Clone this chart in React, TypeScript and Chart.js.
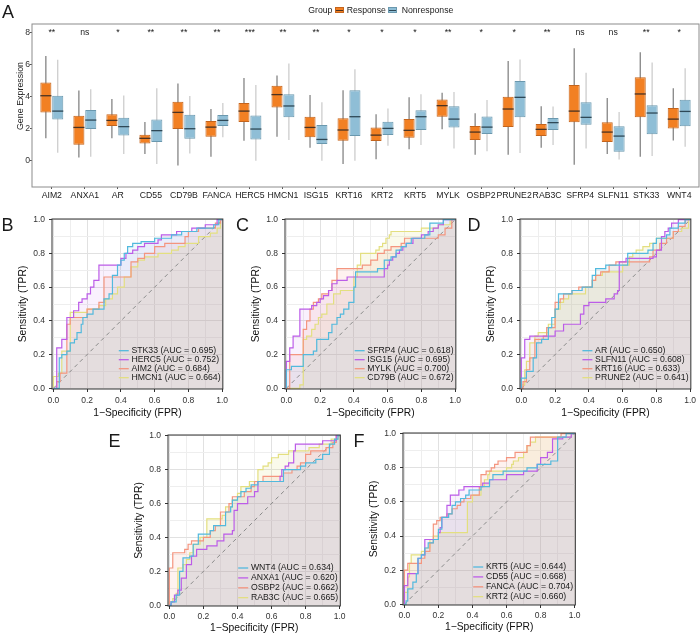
import React, { useEffect, useRef } from 'react';
import { Chart, registerables } from 'chart.js';

Chart.register(...registerables);

const FONT = '"Liberation Sans", Arial, Helvetica, sans-serif';

// ---------------- Panel A data ----------------
const genes = ['AIM2', 'ANXA1', 'AR', 'CD55', 'CD79B', 'FANCA', 'HERC5', 'HMCN1', 'ISG15', 'KRT16', 'KRT2', 'KRT5', 'MYLK', 'OSBP2', 'PRUNE2', 'RAB3C', 'SFRP4', 'SLFN11', 'STK33', 'WNT4'];
const significance = ['**', 'ns', '*', '**', '**', '**', '***', '**', '**', '*', '*', '*', '**', '*', '*', '**', 'ns', 'ns', '**', '*'];
const respMin = [1.4, 0.2, 1.4, 0.42, -0.29, 0.25, 1.25, 1.5, 0.81, -0.2, 0.1, 0.71, 1.96, 0.38, 0.38, 0.81, -0.25, 0.42, 0.25, 1.27];
const respQ1 = [3.02, 1.0, 2.17, 1.08, 1.98, 1.5, 2.42, 3.33, 1.46, 1.25, 1.23, 1.44, 2.75, 1.29, 2.1, 1.54, 2.4, 1.17, 2.71, 2.02];
const respMedian = [4.06, 2.08, 2.52, 1.4, 3.02, 2.1, 3.1, 4.13, 2.08, 1.92, 1.6, 1.9, 3.44, 1.79, 3.23, 1.96, 3.1, 1.79, 4.17, 2.6];
const respQ3 = [4.88, 2.81, 2.9, 1.63, 3.69, 2.48, 3.6, 4.69, 2.75, 2.65, 2.08, 2.6, 3.83, 2.17, 4.0, 2.29, 4.73, 2.4, 5.21, 3.29];
const respMax = [6.54, 4.38, 3.85, 2.42, 4.83, 3.23, 5.17, 5.33, 4.1, 4.4, 2.9, 3.96, 4.25, 2.96, 6.23, 3.4, 7.02, 3.92, 6.77, 4.52];
const nonMin = [0.5, 0.25, 0.42, -0.2, 0.46, 1.46, 0.0, 1.29, 0.0, 0.0, 0.94, 0.98, 0.77, 0.6, 0.48, 0.98, 0.77, 0.08, 0.29, 0.88];
const nonQ1 = [2.58, 1.98, 1.58, 1.17, 1.38, 2.17, 1.33, 2.71, 1.04, 1.54, 1.6, 1.92, 2.08, 1.67, 2.71, 1.92, 2.25, 0.56, 1.65, 2.15];
const nonMedian = [3.1, 2.54, 2.13, 1.88, 2.0, 2.52, 1.98, 3.42, 1.33, 2.75, 2.02, 2.75, 2.6, 2.1, 3.96, 2.38, 2.71, 1.54, 2.98, 3.08];
const nonQ3 = [4.06, 3.17, 2.69, 2.58, 2.88, 2.85, 2.83, 4.15, 2.23, 4.4, 2.44, 3.15, 3.4, 2.77, 4.98, 2.67, 3.65, 2.15, 3.46, 3.81];
const nonMax = [6.3, 4.46, 4.08, 4.52, 4.04, 3.6, 4.73, 6.08, 3.65, 5.71, 3.27, 4.15, 4.29, 3.79, 6.33, 3.38, 5.5, 3.04, 6.13, 5.77];
const exprTicks = [0, 2, 4, 6, 8];
const sigLevel = 7.85;

// ---------------- ROC data: [FPR, TPR reached at that FPR] ----------------
type Pt = [number, number];
const rocSTK33: Pt[] = [[0.035, 0.18], [0.05, 0.2], [0.08, 0.22], [0.1, 0.27], [0.125, 0.29], [0.14, 0.33], [0.165, 0.38], [0.175, 0.42], [0.2, 0.44], [0.235, 0.47], [0.3, 0.53], [0.33, 0.56], [0.35, 0.67], [0.38, 0.73], [0.4, 0.76], [0.42, 0.8], [0.44, 0.84], [0.47, 0.86], [0.52, 0.87], [0.6, 0.89], [0.7, 0.91], [0.76, 0.93], [0.85, 0.95], [0.95, 0.97], [0.98, 1.0]];
const rocHERC5: Pt[] = [[0.02, 0.24], [0.05, 0.29], [0.08, 0.42], [0.12, 0.46], [0.15, 0.51], [0.17, 0.53], [0.2, 0.56], [0.22, 0.6], [0.24, 0.64], [0.27, 0.73], [0.4, 0.77], [0.43, 0.8], [0.47, 0.82], [0.5, 0.84], [0.54, 0.86], [0.62, 0.88], [0.64, 0.91], [0.73, 0.93], [0.82, 0.95], [0.9, 0.97], [0.97, 1.0]];
const rocAIM2: Pt[] = [[0.02, 0.04], [0.04, 0.09], [0.08, 0.38], [0.1, 0.42], [0.2, 0.47], [0.27, 0.51], [0.3, 0.66], [0.46, 0.75], [0.5, 0.77], [0.54, 0.8], [0.6, 0.84], [0.66, 0.86], [0.78, 0.9], [0.8, 0.93], [0.86, 0.95], [0.96, 0.98], [0.99, 1.0]];
const rocHMCN1: Pt[] = [[0.0, 0.07], [0.03, 0.09], [0.05, 0.22], [0.1, 0.45], [0.2, 0.47], [0.27, 0.49], [0.31, 0.53], [0.35, 0.56], [0.38, 0.6], [0.42, 0.66], [0.46, 0.72], [0.5, 0.76], [0.54, 0.78], [0.62, 0.8], [0.7, 0.82], [0.74, 0.84], [0.78, 0.86], [0.86, 0.9], [0.93, 0.92], [0.97, 0.95], [0.99, 1.0]];

const rocSFRP4: Pt[] = [[0.0, 0.11], [0.03, 0.13], [0.1, 0.2], [0.16, 0.22], [0.18, 0.29], [0.25, 0.33], [0.27, 0.38], [0.3, 0.42], [0.32, 0.44], [0.34, 0.47], [0.37, 0.51], [0.4, 0.6], [0.41, 0.69], [0.54, 0.71], [0.58, 0.76], [0.62, 0.78], [0.65, 0.82], [0.68, 0.84], [0.71, 0.86], [0.74, 0.89], [0.82, 0.91], [0.85, 0.98], [0.93, 1.0]];
const rocISG15: Pt[] = [[0.0, 0.16], [0.02, 0.24], [0.04, 0.31], [0.08, 0.47], [0.15, 0.49], [0.18, 0.51], [0.2, 0.53], [0.22, 0.55], [0.25, 0.58], [0.27, 0.62], [0.3, 0.64], [0.36, 0.66], [0.58, 0.71], [0.6, 0.73], [0.61, 0.76], [0.63, 0.78], [0.65, 0.8], [0.67, 0.82], [0.69, 0.84], [0.71, 0.86], [0.75, 0.89], [0.8, 0.91], [0.84, 0.93], [0.87, 0.95], [0.9, 0.97], [0.93, 1.0]];
const rocMYLK: Pt[] = [[0.02, 0.2], [0.1, 0.35], [0.12, 0.4], [0.14, 0.47], [0.16, 0.51], [0.19, 0.53], [0.21, 0.56], [0.25, 0.58], [0.27, 0.64], [0.3, 0.71], [0.45, 0.73], [0.5, 0.76], [0.54, 0.8], [0.58, 0.82], [0.62, 0.84], [0.68, 0.86], [0.7, 0.89], [0.9, 0.91], [0.94, 0.95], [0.98, 1.0]];
const rocCD79B: Pt[] = [[0.08, 0.02], [0.1, 0.29], [0.12, 0.31], [0.15, 0.35], [0.17, 0.38], [0.19, 0.42], [0.21, 0.44], [0.24, 0.5], [0.28, 0.56], [0.32, 0.58], [0.4, 0.66], [0.42, 0.73], [0.44, 0.8], [0.53, 0.82], [0.55, 0.84], [0.57, 0.86], [0.59, 0.89], [0.61, 0.91], [0.62, 0.93], [0.8, 0.95], [0.9, 0.97], [0.97, 1.0]];

const rocAR: Pt[] = [[0.0, 0.06], [0.03, 0.1], [0.07, 0.18], [0.09, 0.27], [0.12, 0.29], [0.16, 0.36], [0.18, 0.42], [0.2, 0.47], [0.22, 0.56], [0.3, 0.58], [0.36, 0.6], [0.42, 0.67], [0.44, 0.71], [0.5, 0.73], [0.63, 0.8], [0.75, 0.82], [0.78, 0.86], [0.8, 0.89], [0.86, 0.91], [0.88, 0.95], [0.93, 0.98], [0.97, 1.0]];
const rocSLFN11: Pt[] = [[0.0, 0.18], [0.02, 0.29], [0.05, 0.31], [0.2, 0.34], [0.25, 0.38], [0.35, 0.44], [0.37, 0.49], [0.4, 0.51], [0.5, 0.53], [0.55, 0.56], [0.57, 0.58], [0.58, 0.75], [0.62, 0.77], [0.78, 0.78], [0.8, 0.82], [0.83, 0.9], [0.85, 0.93], [0.87, 0.95], [0.89, 0.98], [0.93, 1.0]];
const rocKRT16: Pt[] = [[0.01, 0.04], [0.03, 0.11], [0.05, 0.18], [0.08, 0.29], [0.13, 0.31], [0.15, 0.36], [0.2, 0.51], [0.23, 0.53], [0.25, 0.56], [0.3, 0.58], [0.34, 0.6], [0.42, 0.64], [0.44, 0.67], [0.47, 0.69], [0.52, 0.73], [0.56, 0.75], [0.76, 0.78], [0.78, 0.82], [0.82, 0.86], [0.86, 0.89], [0.9, 0.93], [0.93, 0.96], [0.97, 1.0]];
const rocPRUNE2: Pt[] = [[0.0, 0.02], [0.02, 0.11], [0.03, 0.16], [0.05, 0.27], [0.08, 0.31], [0.1, 0.33], [0.16, 0.38], [0.2, 0.47], [0.23, 0.51], [0.25, 0.53], [0.28, 0.56], [0.38, 0.6], [0.42, 0.64], [0.44, 0.67], [0.48, 0.69], [0.6, 0.73], [0.64, 0.78], [0.66, 0.8], [0.68, 0.82], [0.72, 0.84], [0.76, 0.86], [0.8, 0.89], [0.9, 0.93], [0.95, 0.95], [0.99, 1.0]];

const rocWNT4: Pt[] = [[0.01, 0.02], [0.04, 0.06], [0.06, 0.2], [0.08, 0.28], [0.12, 0.29], [0.14, 0.36], [0.17, 0.42], [0.24, 0.44], [0.26, 0.47], [0.33, 0.55], [0.36, 0.58], [0.37, 0.62], [0.4, 0.64], [0.42, 0.67], [0.45, 0.69], [0.48, 0.71], [0.52, 0.73], [0.67, 0.8], [0.77, 0.82], [0.8, 0.84], [0.86, 0.86], [0.9, 0.89], [0.94, 0.95], [0.97, 0.98], [0.99, 1.0]];
const rocANXA1: Pt[] = [[0.01, 0.02], [0.03, 0.06], [0.05, 0.09], [0.07, 0.16], [0.1, 0.24], [0.13, 0.29], [0.16, 0.33], [0.22, 0.35], [0.28, 0.38], [0.32, 0.42], [0.37, 0.44], [0.38, 0.56], [0.4, 0.6], [0.46, 0.64], [0.5, 0.67], [0.52, 0.73], [0.65, 0.76], [0.66, 0.8], [0.68, 0.82], [0.7, 0.84], [0.73, 0.91], [0.74, 0.95], [0.9, 0.97], [0.98, 1.0]];
const rocOSBP2: Pt[] = [[0.0, 0.22], [0.02, 0.31], [0.09, 0.33], [0.11, 0.36], [0.13, 0.38], [0.2, 0.4], [0.24, 0.44], [0.27, 0.47], [0.3, 0.55], [0.35, 0.6], [0.37, 0.64], [0.44, 0.67], [0.48, 0.7], [0.5, 0.73], [0.55, 0.76], [0.67, 0.78], [0.72, 0.8], [0.75, 0.82], [0.77, 0.84], [0.8, 0.89], [0.83, 0.91], [0.92, 0.93], [0.96, 0.96], [0.98, 1.0]];
const rocRAB3C: Pt[] = [[0.0, 0.02], [0.02, 0.04], [0.04, 0.07], [0.05, 0.22], [0.08, 0.24], [0.1, 0.27], [0.12, 0.31], [0.14, 0.36], [0.18, 0.4], [0.22, 0.51], [0.31, 0.53], [0.33, 0.58], [0.37, 0.62], [0.4, 0.66], [0.42, 0.7], [0.47, 0.73], [0.52, 0.8], [0.55, 0.82], [0.58, 0.84], [0.6, 0.87], [0.64, 0.89], [0.7, 0.91], [0.82, 0.93], [0.88, 0.95], [0.95, 0.98], [0.99, 1.0]];

const rocKRT5: Pt[] = [[0.01, 0.02], [0.02, 0.09], [0.05, 0.13], [0.07, 0.18], [0.08, 0.27], [0.1, 0.29], [0.12, 0.33], [0.14, 0.36], [0.17, 0.38], [0.2, 0.44], [0.22, 0.51], [0.26, 0.53], [0.28, 0.58], [0.3, 0.6], [0.33, 0.62], [0.36, 0.64], [0.38, 0.67], [0.45, 0.69], [0.5, 0.73], [0.52, 0.76], [0.58, 0.78], [0.72, 0.8], [0.78, 0.82], [0.86, 0.84], [0.9, 0.98], [0.95, 1.0]];
const rocCD55: Pt[] = [[0.0, 0.11], [0.02, 0.18], [0.08, 0.27], [0.1, 0.29], [0.12, 0.38], [0.2, 0.42], [0.21, 0.45], [0.22, 0.51], [0.25, 0.58], [0.27, 0.64], [0.32, 0.67], [0.35, 0.69], [0.46, 0.71], [0.5, 0.73], [0.6, 0.76], [0.7, 0.78], [0.78, 0.82], [0.8, 0.86], [0.84, 0.89], [0.87, 0.97], [0.93, 0.98], [0.98, 1.0]];
const rocFANCA: Pt[] = [[0.0, 0.2], [0.02, 0.24], [0.1, 0.27], [0.12, 0.31], [0.15, 0.36], [0.17, 0.47], [0.19, 0.49], [0.21, 0.51], [0.25, 0.53], [0.28, 0.56], [0.31, 0.58], [0.33, 0.6], [0.35, 0.62], [0.39, 0.64], [0.44, 0.69], [0.45, 0.76], [0.48, 0.78], [0.51, 0.8], [0.53, 0.82], [0.55, 0.84], [0.6, 0.86], [0.65, 0.89], [0.72, 0.93], [0.74, 0.98], [0.92, 1.0]];
const rocKRT2: Pt[] = [[0.0, 0.07], [0.02, 0.16], [0.03, 0.24], [0.04, 0.29], [0.1, 0.31], [0.12, 0.33], [0.15, 0.38], [0.17, 0.4], [0.2, 0.42], [0.37, 0.6], [0.4, 0.64], [0.45, 0.69], [0.47, 0.73], [0.49, 0.76], [0.5, 0.78], [0.6, 0.8], [0.63, 0.82], [0.64, 0.84], [0.67, 0.86], [0.7, 0.89], [0.72, 0.93], [0.74, 0.95], [0.77, 0.98], [0.98, 1.0]];

const rocTicks = [0, 0.1, 0.2, 0.3, 0.4, 0.5, 0.6, 0.7, 0.8, 0.9, 1.0];

const namesB = ['STK33', 'HERC5', 'AIM2', 'HMCN1'];
const aucB = [0.695, 0.752, 0.684, 0.664];
const namesC = ['SFRP4', 'ISG15', 'MYLK', 'CD79B'];
const aucC = [0.618, 0.695, 0.7, 0.672];
const namesD = ['AR', 'SLFN11', 'KRT16', 'PRUNE2'];
const aucD = [0.65, 0.608, 0.633, 0.641];
const namesE = ['WNT4', 'ANXA1', 'OSBP2', 'RAB3C'];
const aucE = [0.634, 0.62, 0.662, 0.665];
const namesF = ['KRT5', 'CD55', 'FANCA', 'KRT2'];
const aucF = [0.644, 0.668, 0.704, 0.66];

// ---------------- styles ----------------
const ORANGE = '#F28023';
const ORANGE_EDGE = '#C4641C';
const BLUE = '#8FBED6';
const BLUE_EDGE = '#6A98AE';
const ROC_COLORS = ['#52B9DD', '#BC5CE8', '#F4957F', '#E3DF80'];
const ROC_FILL_ALPHA = [0.09, 0.085, 0.12, 0.16];

function hexA(hex: string, a: number) {
  const n = parseInt(hex.slice(1), 16);
  return `rgba(${(n >> 16) & 255},${(n >> 8) & 255},${n & 255},${a})`;
}

function Txt(props: { x: number; base: number; size: number; children: any; color?: string }) {
  const top = props.base - 0.8465 * props.size;
  return (
    <div style={{ position: 'absolute', left: props.x, top, fontSize: props.size, lineHeight: `${props.size}px`, whiteSpace: 'nowrap', color: props.color || '#1a1a1a', fontFamily: FONT }}>
      {props.children}
    </div>
  );
}

// ---------------- Panel A ----------------
function BoxPanel() {
  const ref = useRef<HTMLCanvasElement>(null);
  useEffect(() => {
    const extras = {
      id: 'boxExtras',
      beforeDatasetsDraw(chart: any) {
        const ctx = chart.ctx;
        const y = chart.scales.y;
        const sets: [number[], number[], string][] = [
          [respMin, respMax, '#6f6f6f'],
          [nonMin, nonMax, '#c4c4c4'],
        ];
        sets.forEach(([lo, hi, col], di) => {
          const meta = chart.getDatasetMeta(di);
          ctx.save();
          ctx.strokeStyle = col;
          ctx.lineWidth = 1.1;
          meta.data.forEach((el: any, j: number) => {
            ctx.beginPath();
            ctx.moveTo(el.x, y.getPixelForValue(lo[j]));
            ctx.lineTo(el.x, y.getPixelForValue(hi[j]));
            ctx.stroke();
          });
          ctx.restore();
        });
      },
      afterDatasetsDraw(chart: any) {
        const ctx = chart.ctx;
        const x = chart.scales.x;
        const y = chart.scales.y;
        const meds: [number[], string][] = [
          [respMedian, '#4a3222'],
          [nonMedian, '#2e4856'],
        ];
        meds.forEach(([m, col], di) => {
          const meta = chart.getDatasetMeta(di);
          ctx.save();
          ctx.strokeStyle = col;
          ctx.lineWidth = 1.3;
          meta.data.forEach((el: any, j: number) => {
            const py = y.getPixelForValue(m[j]);
            ctx.beginPath();
            ctx.moveTo(el.x - el.width / 2, py);
            ctx.lineTo(el.x + el.width / 2, py);
            ctx.stroke();
          });
          ctx.restore();
        });
        ctx.save();
        ctx.font = `8.7px ${FONT}`;
        ctx.fillStyle = '#1a1a1a';
        ctx.textAlign = 'center';
        ctx.textBaseline = 'alphabetic';
        significance.forEach((s, i) => {
          ctx.fillText(s, x.getPixelForValue(i), y.getPixelForValue(sigLevel));
        });
        ctx.restore();
      },
      afterDraw(chart: any) {
        const { ctx, chartArea: a } = chart;
        ctx.save();
        ctx.strokeStyle = '#8c8c8c';
        ctx.lineWidth = 1;
        ctx.strokeRect(a.left, a.top, a.right - a.left, a.bottom - a.top);
        ctx.restore();
      },
    };
    const chart = new Chart(ref.current as HTMLCanvasElement, {
      type: 'bar',
      data: {
        datasets: [
          {
            label: 'Response',
            data: genes.map((_, i) => ({ x: i, y: [respQ1[i], respQ3[i]] })) as any,
            backgroundColor: ORANGE,
            borderColor: ORANGE_EDGE,
            borderWidth: 1,
            borderSkipped: false,
            categoryPercentage: 0.72,
            barPercentage: 0.93,
          },
          {
            label: 'Nonresponse',
            data: genes.map((_, i) => ({ x: i, y: [nonQ1[i], nonQ3[i]] })) as any,
            backgroundColor: BLUE,
            borderColor: BLUE_EDGE,
            borderWidth: 1,
            borderSkipped: false,
            categoryPercentage: 0.72,
            barPercentage: 0.93,
          },
        ],
      },
      options: {
        responsive: false,
        animation: false,
        devicePixelRatio: 1,
        events: [],
        layout: { padding: { left: 0, top: 24, right: 1, bottom: 0 } },
        plugins: { legend: { display: false }, tooltip: { enabled: false } },
        scales: {
          x: {
            type: 'linear',
            min: -0.6,
            max: 19.6,
            offset: false,
            afterBuildTicks: (ax: any) => { ax.ticks = genes.map((_, i) => ({ value: i })); },
            afterFit: (s: any) => { s.height = 18; },
            grid: { display: true, drawOnChartArea: false, offset: false, tickLength: 2, tickColor: '#555', lineWidth: 1 },
            border: { display: false },
            ticks: { autoSkip: false, maxRotation: 0, padding: 1, color: '#1a1a1a', font: { family: FONT, size: 8.7 }, callback: (_v: any, i: number) => genes[i] },
          },
          y: {
            type: 'linear',
            min: -1.64,
            max: 8.54,
            afterBuildTicks: (ax: any) => { ax.ticks = exprTicks.map((v) => ({ value: v })); },
            afterFit: (s: any) => { s.width = 32; },
            grid: { display: true, drawOnChartArea: false, tickLength: 2, tickColor: '#555' },
            border: { display: false },
            ticks: { padding: 0, color: '#333', font: { family: FONT, size: 8.7 } },
          },
        },
      } as any,
      plugins: [extras],
    });
    return () => chart.destroy();
  }, []);
  return <canvas ref={ref} width={700} height={205} style={{ position: 'absolute', left: 0, top: 0, width: 700, height: 205 }} />;
}

// ---------------- ROC panels ----------------
function RocPanel(p: {
  area: [number, number, number, number];
  canvasTop: number;
  canvasHeight: number;
  names: string[];
  aucs: number[];
  curves: Pt[][];
  legendBottom: number;
  legendStep: number;
  titleOffset: number;
  labelGap: number;
}) {
  const ref = useRef<HTMLCanvasElement>(null);
  const [L, T, R, B] = p.area;
  const cl = L - 52;
  const cw = 232;
  const ct = p.canvasTop;
  const ch = p.canvasHeight;
  useEffect(() => {
    const xH = p.titleOffset + 6.18;
    const labels = p.names.map((n, i) => `${n} (AUC = ${p.aucs[i].toFixed(3)})`);
    const legendPlugin = {
      id: 'rocLegend',
      afterDatasetsDraw(chart: any) {
        const { ctx, chartArea } = chart;
        ctx.save();
        ctx.font = `8.7px ${FONT}`;
        const maxW = Math.max(...labels.map((l) => ctx.measureText(l).width));
        const textX = chartArea.right - 2.3 - maxW;
        const lx1 = textX - 2.7;
        const lx0 = lx1 - 10;
        labels.forEach((lab, i) => {
          const y = chartArea.bottom - p.legendBottom - (labels.length - 1 - i) * p.legendStep;
          ctx.strokeStyle = ROC_COLORS[i];
          ctx.lineWidth = 1.3;
          ctx.beginPath();
          ctx.moveTo(lx0, y);
          ctx.lineTo(lx1, y);
          ctx.stroke();
          ctx.fillStyle = '#1a1a1a';
          ctx.textAlign = 'left';
          ctx.textBaseline = 'middle';
          ctx.fillText(lab, textX, y);
        });
        ctx.restore();
      },
      afterDraw(chart: any) {
        const { ctx, chartArea: a } = chart;
        ctx.save();
        ctx.strokeStyle = '#333';
        ctx.lineWidth = 1;
        ctx.strokeRect(a.left, a.top, a.right - a.left, a.bottom - a.top);
        ctx.restore();
      },
    };
    const isMajor = (v: number) => Math.round(v * 10) % 2 === 0;
    const gridColor = (c: any) => (c.tick && isMajor(c.tick.value) ? '#e1e1e1' : '#eeeeee');
    const tickColor = (c: any) => (c.tick && isMajor(c.tick.value) ? '#333' : 'rgba(0,0,0,0)');
    const tickCb = (v: any) => (isMajor(Number(v)) ? Number(v).toFixed(1) : '');
    const datasets: any[] = p.curves.map((pts, i) => ({
      data: [{ x: 0, y: 0 }, ...pts.map(([x, y]) => ({ x, y })), { x: 1, y: 1 }],
      stepped: 'before',
      borderColor: ROC_COLORS[i],
      backgroundColor: hexA(ROC_COLORS[i], ROC_FILL_ALPHA[i]),
      fill: 'origin',
      borderWidth: 1.2,
      pointRadius: 0,
    }));
    datasets.push({
      data: [{ x: 0, y: 0 }, { x: 1, y: 1 }],
      borderColor: '#8a8a8a',
      borderDash: [4, 3.5],
      borderWidth: 1,
      pointRadius: 0,
      fill: false,
    });
    const chart = new Chart(ref.current as HTMLCanvasElement, {
      type: 'line',
      data: { datasets },
      options: {
        responsive: false,
        animation: false,
        devicePixelRatio: 1,
        events: [],
        layout: { padding: { left: 0, top: T - ct, right: cl + cw - R, bottom: ct + ch - B - xH } },
        plugins: { legend: { display: false }, tooltip: { enabled: false }, filler: { drawTime: 'beforeDatasetsDraw' } },
        scales: {
          x: {
            type: 'linear',
            min: -0.008,
            max: 1.004,
            afterBuildTicks: (ax: any) => { ax.ticks = rocTicks.map((v) => ({ value: v })); },
            afterFit: (s: any) => { s.height = xH; },
            grid: { color: gridColor, tickColor, tickLength: 3, lineWidth: 1 },
            border: { display: false },
            ticks: { autoSkip: false, maxRotation: 0, padding: p.labelGap - 3 - 5.1, color: '#333', font: { family: FONT, size: 8.5 }, callback: tickCb },
            title: { display: true, text: '1\u2212Specificity (FPR)', color: '#111', font: { family: FONT, size: 10.3 }, padding: 0 },
          },
          y: {
            type: 'linear',
            min: -0.004,
            max: 1.004,
            afterBuildTicks: (ax: any) => { ax.ticks = rocTicks.map((v) => ({ value: v })); },
            afterFit: (s: any) => { s.width = 52; },
            grid: { color: gridColor, tickColor, tickLength: 3, lineWidth: 1 },
            border: { display: false },
            ticks: { autoSkip: false, padding: 4, color: '#333', font: { family: FONT, size: 8.5 }, callback: tickCb },
            title: { display: true, text: 'Sensitivity (TPR)', color: '#111', font: { family: FONT, size: 10.3 }, padding: { top: 17.1, bottom: 0 } },
          },
        },
      } as any,
      plugins: [legendPlugin],
    });
    return () => chart.destroy();
  }, []);
  return <canvas ref={ref} width={cw} height={ch} style={{ position: 'absolute', left: cl, top: ct, width: cw, height: ch }} />;
}

export default function App() {
  return (
    <div style={{ position: 'absolute', left: 0, top: 0, width: 700, height: 635, background: '#fff', overflow: 'hidden', fontFamily: FONT }}>
      <BoxPanel />
      <RocPanel area={[52, 219, 225, 389]} canvasTop={205} canvasHeight={215} names={namesB} aucs={aucB} curves={[rocSTK33, rocHERC5, rocAIM2, rocHMCN1]} legendBottom={11.3} legendStep={9} titleOffset={24} labelGap={12} />
      <RocPanel area={[285, 219, 458, 389]} canvasTop={205} canvasHeight={215} names={namesC} aucs={aucC} curves={[rocSFRP4, rocISG15, rocMYLK, rocCD79B]} legendBottom={11.3} legendStep={9} titleOffset={24} labelGap={12} />
      <RocPanel area={[520, 219, 693, 389]} canvasTop={205} canvasHeight={215} names={namesD} aucs={aucD} curves={[rocAR, rocSLFN11, rocKRT16, rocPRUNE2]} legendBottom={11.3} legendStep={9} titleOffset={24} labelGap={12} />
      <RocPanel area={[168, 435, 341, 606]} canvasTop={420} canvasHeight={215} names={namesE} aucs={aucE} curves={[rocWNT4, rocANXA1, rocOSBP2, rocRAB3C]} legendBottom={8.3} legendStep={9.9} titleOffset={22.5} labelGap={10.5} />
      <RocPanel area={[403, 433, 576, 605]} canvasTop={420} canvasHeight={215} names={namesF} aucs={aucF} curves={[rocKRT5, rocCD55, rocFANCA, rocKRT2]} legendBottom={8.3} legendStep={9.9} titleOffset={22.5} labelGap={10.5} />

      {/* Panel A legend */}
      <Txt x={308.3} base={13.5} size={8.7}>Group</Txt>
      <div style={{ position: 'absolute', left: 335, top: 7.3, width: 8.5, height: 6, boxSizing: 'border-box', background: ORANGE, border: `1px solid ${ORANGE_EDGE}` }}>
        <div style={{ position: 'absolute', left: 0, right: 0, top: 1.5, height: 1, background: '#4a3222' }} />
      </div>
      <Txt x={346.7} base={13.5} size={8.7}>Response</Txt>
      <div style={{ position: 'absolute', left: 388.3, top: 7.3, width: 9, height: 6, boxSizing: 'border-box', background: BLUE, border: `1px solid ${BLUE_EDGE}` }}>
        <div style={{ position: 'absolute', left: 0, right: 0, top: 1.5, height: 1, background: '#2e4856' }} />
      </div>
      <Txt x={401.7} base={13.5} size={8.7}>Nonresponse</Txt>

      {/* Panel A y-axis title */}
      <div style={{ position: 'absolute', left: 20, top: 96, transform: 'translate(-50%, -50%) rotate(-90deg)', fontSize: 8.9, lineHeight: '8.9px', whiteSpace: 'nowrap', color: '#1a1a1a', fontFamily: FONT }}>Gene Expression</div>

      {/* Panel letters */}
      <Txt x={2} base={18.3} size={18}>A</Txt>
      <Txt x={1.5} base={231.7} size={18}>B</Txt>
      <Txt x={236} base={231.7} size={18}>C</Txt>
      <Txt x={467.5} base={231.7} size={18}>D</Txt>
      <Txt x={108.5} base={447.7} size={18}>E</Txt>
      <Txt x={353.5} base={447.7} size={18}>F</Txt>
    </div>
  );
}
